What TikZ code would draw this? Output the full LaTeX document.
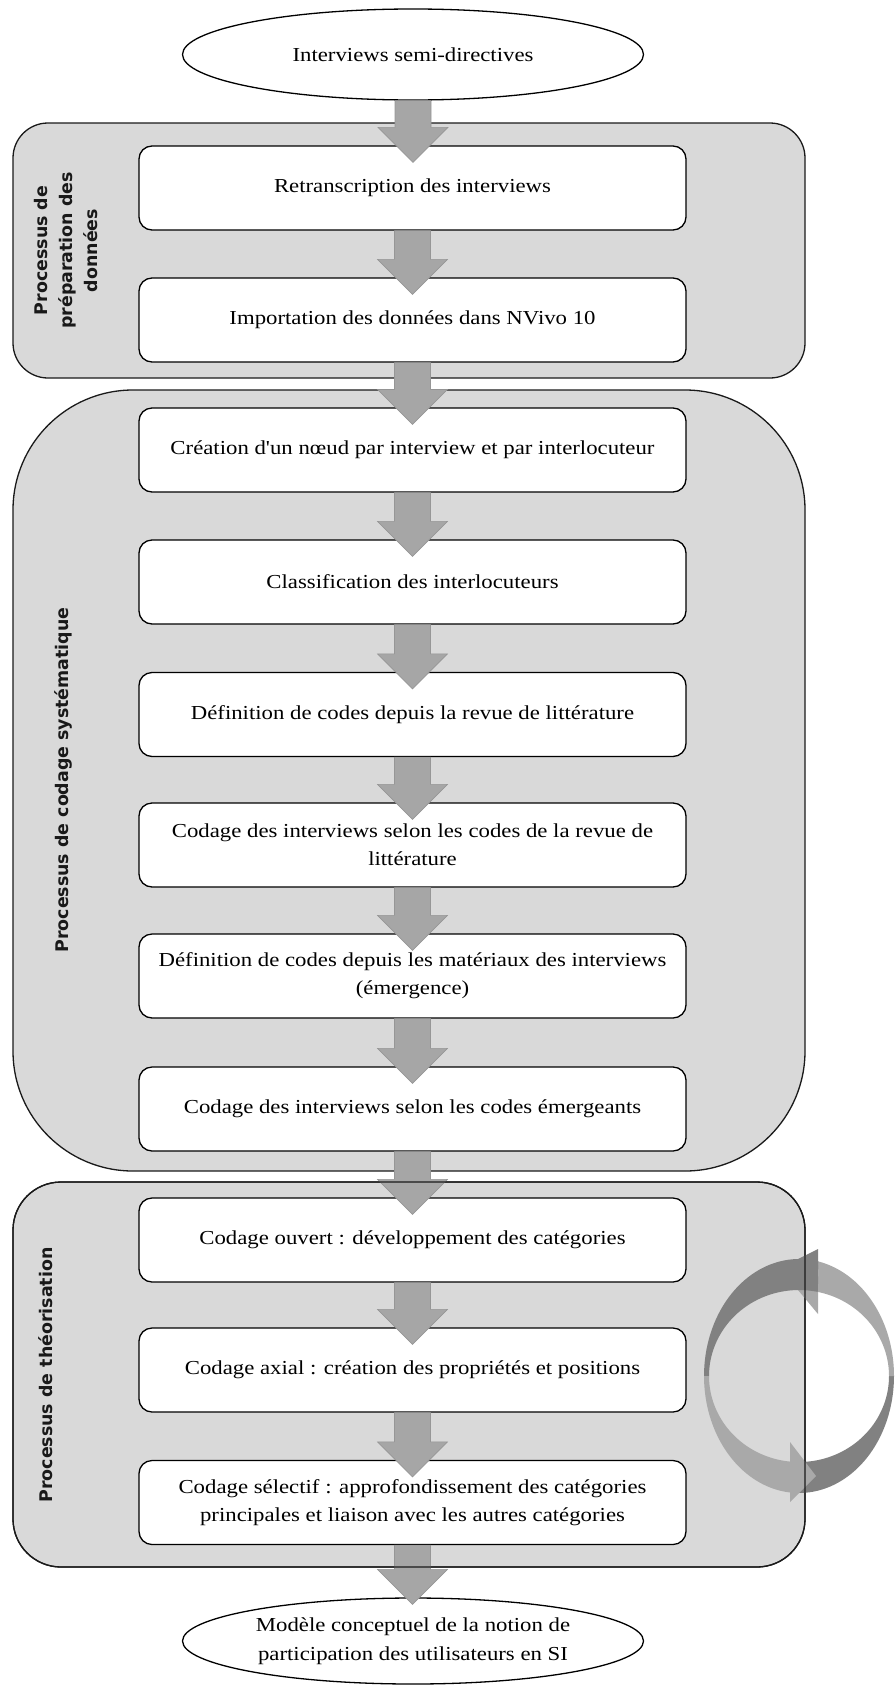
\documentclass[tikz,border=0pt]{standalone}
\usepackage{fontspec}
\setmainfont{Liberation Serif}[FakeStretch=1.15, Ligatures=TeXOff]
\newfontfamily\labelfont{DejaVu Sans}
\usetikzlibrary{shapes.geometric,calc}
\definecolor{groupfill}{HTML}{D9D9D9}
\definecolor{arrowfill}{HTML}{A6A6A6}
\definecolor{arrowline}{HTML}{969696}
\definecolor{ringdark}{HTML}{818181}
\definecolor{ringlight}{HTML}{A9A9A9}
\definecolor{edgecol}{HTML}{1A1A1A}

\tikzset{
  grp/.style={draw=edgecol, line width=1.3pt, fill=groupfill, minimum width=792pt, inner sep=0pt},
  stepbox/.style={draw=black, line width=1.3pt, fill=white, rounded corners=13pt, minimum width=547pt, minimum height=84pt, inner sep=0pt, align=center, font=\fontsize{19.8}{28}\selectfont},
  endpoint/.style={ellipse, draw=black, line width=1.3pt, fill=white, minimum width=461pt, inner sep=0pt, align=center, font=\fontsize{19.8}{29}\selectfont},
  grplabel/.style={rotate=90, align=center, inner sep=0pt, font=\labelfont\bfseries\fontsize{17.4}{25}\selectfont, text=black!90},
  flowarr/.style={fill=arrowfill, draw=arrowline, line width=0.6pt},
}

\newcommand\flowarrow[3][17]{%
  \filldraw[flowarr] let \p1=(#2.south), \p2=(#3.north) in
    (\x1-18pt,\y1) -- (\x1+18pt,\y1) -- (\x1+18pt,\y2-#1pt+35pt)
    -- (\x1+35pt,\y2-#1pt+35pt) -- (\x1,\y2-#1pt)
    -- (\x1-35pt,\y2-#1pt+35pt) -- (\x1-18pt,\y2-#1pt+35pt) -- cycle;}

\begin{document}
\begin{tikzpicture}[x=1pt,y=-1pt]
\useasboundingbox (0,0) rectangle (894,1686);

% groups
\node[grp, rounded corners=35pt, minimum height=255pt] (g1) at (409,250.5) {};
\node[grp, rounded corners=120pt, minimum height=781pt] (g2) at (409,780.5) {};
\node[grp, rounded corners=48pt, minimum height=385pt] (g3) at (409,1374.5) {};

% group labels
\node[grplabel] (l1) at (66,250.5) {Processus de\\préparation des\\données};
\node[grplabel] (l2) at (63,780) {Processus de codage systématique};
\node[grplabel] (l3) at (46,1375) {Processus de théorisation};

% end points
\node[endpoint, minimum height=91pt] (e1) at (413,54.5) {Interviews semi-directives};
\node[endpoint, minimum height=86pt] (e2) at (413,1641) {Modèle conceptuel de la notion de\\participation des utilisateurs en SI};

% steps
\node[stepbox] (b1) at (412.5,188) {Retranscription des interviews};
\node[stepbox] (b2) at (412.5,320) {Importation des données dans NVivo 10};
\node[stepbox] (b3) at (412.5,450) {Création d'un nœud par interview et par interlocuteur};
\node[stepbox] (b4) at (412.5,582) {Classification des interlocuteurs};
\node[stepbox] (b5) at (412.5,714.5) {Définition de codes depuis la revue de littérature};
\node[stepbox] (b6) at (412.5,845) {Codage des interviews selon les codes de la revue de\\littérature};
\node[stepbox] (b7) at (412.5,976) {Définition de codes depuis les matériaux des interviews\\(émergence)};
\node[stepbox] (b8) at (412.5,1109) {Codage des interviews selon les codes émergeants};
\node[stepbox] (b9) at (412.5,1240) {Codage ouvert : développement des catégories};
\node[stepbox] (b10) at (412.5,1370) {Codage axial : création des propriétés et positions};
\node[stepbox] (b11) at (412.5,1502.5) {Codage sélectif : approfondissement des catégories\\principales et liaison avec les autres catégories};

% block arrows
\flowarrow{e1}{b1}
\flowarrow{b1}{b2}
\flowarrow{b2}{b3}
\flowarrow{b3}{b4}
\flowarrow{b4}{b5}
\flowarrow{b5}{b6}
\flowarrow{b6}{b7}
\flowarrow{b7}{b8}
\flowarrow{b8}{b9}
\flowarrow{b9}{b10}
\flowarrow{b10}{b11}
\flowarrow[7]{b11}{e2}

% circular arrows
\fill[ringdark] plot[domain=0:95.5, samples=40] ({799+95*cos(\x)},{1376+117*sin(\x)})
  -- plot[domain=95.5:0, samples=40] ({799+90*cos(\x)},{1376+86*sin(\x)}) -- cycle;
\fill[ringlight] plot[domain=282:360, samples=40] ({799+95*cos(\x)},{1376+117*sin(\x)})
  -- plot[domain=360:282, samples=40] ({799+90*cos(\x)},{1376+86*sin(\x)}) -- cycle;
\fill[ringlight] (818,1265) -- (818,1314) -- (798,1290) -- cycle;
\fill[ringdark] plot[domain=180:282, samples=40] ({799+95*cos(\x)},{1376+117*sin(\x)})
  -- plot[domain=282:180, samples=40] ({799+90*cos(\x)},{1376+86*sin(\x)}) -- cycle;
\fill[ringdark] (798,1259) -- (818,1249) -- (818,1263) -- cycle;
\fill[ringlight] plot[domain=95.5:180, samples=40] ({799+95*cos(\x)},{1376+117*sin(\x)})
  -- plot[domain=180:95.5, samples=40] ({799+90*cos(\x)},{1376+86*sin(\x)}) -- cycle;
\fill[ringlight] (790,1442) -- (816,1476) -- (790,1502) -- cycle;

% group border over the ring
\node[grp, fill=none, rounded corners=48pt, minimum height=385pt] (g3edge) at (409,1374.5) {};
\end{tikzpicture}
\end{document}
